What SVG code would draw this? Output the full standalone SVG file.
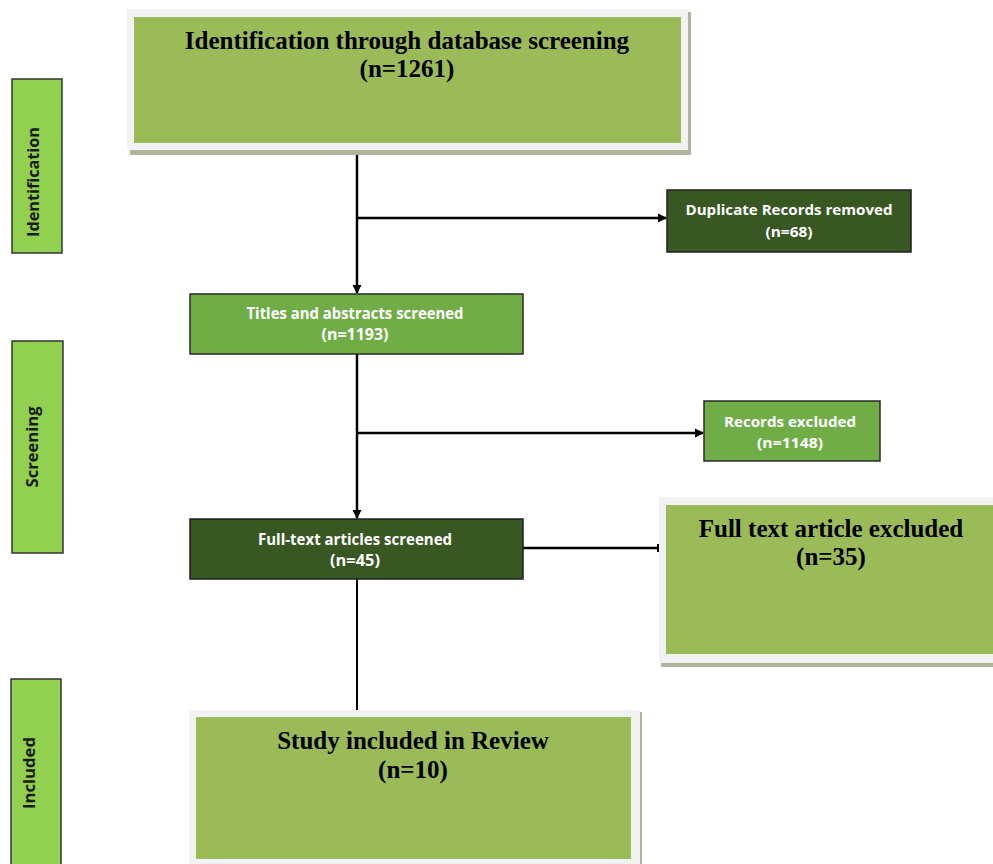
<svg xmlns="http://www.w3.org/2000/svg" width="993" height="864" viewBox="0 0 993 864">
<defs>
<style>
.frame{fill:#f2f2f2}
.shadow{fill:#adb59f}
.big{fill:#9bbb59}
.mid{fill:#70ad47;stroke:#2b2b2b;stroke-width:1.5}
.dark{fill:#385723;stroke:#1f1f1f;stroke-width:1.5}
.side{fill:#92d050;stroke:#333333;stroke-width:1.5}
.serif{font-family:"Liberation Serif","Times New Roman",serif;font-weight:bold;font-size:25px;fill:#000000;text-anchor:middle}
.small{font-family:"Open Sans","Liberation Sans",sans-serif;font-weight:bold;font-size:15px;fill:#ffffff;text-anchor:middle}
.small16{font-size:16px}
.lbl{font-family:"Open Sans","Liberation Sans",sans-serif;font-weight:bold;font-size:16px;fill:#1a1a1a;text-anchor:middle}
.conn{stroke:#000000;stroke-width:2.5;fill:none}
</style>
<marker id="arr" markerWidth="10" markerHeight="10" refX="8" refY="5" orient="auto" markerUnits="userSpaceOnUse">
<path d="M0,0.5 L9,5 L0,9.5 Z" fill="#000000"/>
</marker>
</defs>
<rect width="993" height="864" fill="#ffffff"/>

<g id="connectors">
<line class="conn" x1="357" y1="150" x2="357" y2="293" marker-end="url(#arr)"/>
<line class="conn" x1="357" y1="218" x2="666" y2="218" marker-end="url(#arr)"/>
<line class="conn" x1="357" y1="354" x2="357" y2="518" marker-end="url(#arr)"/>
<line class="conn" x1="357" y1="433" x2="703" y2="433" marker-end="url(#arr)"/>
<line class="conn" x1="523" y1="548" x2="658" y2="548"/>
<line stroke="#000000" stroke-width="2" x1="658" y1="544" x2="658" y2="552"/>
<line stroke="#000000" stroke-width="2" x1="357" y1="579" x2="357" y2="711"/>
</g>

<g id="side-identification">
<rect class="side" x="12" y="79" width="50" height="174"/>
<text class="lbl" transform="translate(39,182) rotate(-90)" textLength="110" lengthAdjust="spacingAndGlyphs">Identification</text>
</g>
<g id="side-screening">
<rect class="side" x="12" y="341" width="51" height="212"/>
<text class="lbl" transform="translate(38,447) rotate(-90)" textLength="81" lengthAdjust="spacingAndGlyphs">Screening</text>
</g>
<g id="side-included">
<rect class="side" x="11" y="679" width="50" height="190"/>
<text class="lbl" transform="translate(35,773) rotate(-90)" textLength="72" lengthAdjust="spacingAndGlyphs">Included</text>
</g>

<g id="node-identification">
<rect class="shadow" x="130" y="12" width="561" height="143"/>
<rect class="frame" x="127" y="9" width="561" height="141"/>
<rect class="big" x="134" y="17" width="547" height="126"/>
<text class="serif" x="407" y="49">Identification through database screening</text>
<text class="serif" x="407" y="77">(n=1261)</text>
</g>

<g id="node-duplicates">
<rect class="dark" x="667" y="190" width="244" height="62"/>
<text class="small" x="789" y="215" textLength="207" lengthAdjust="spacingAndGlyphs">Duplicate Records removed</text>
<text class="small" x="789" y="237" textLength="47" lengthAdjust="spacingAndGlyphs">(n=68)</text>
</g>

<g id="node-titles">
<rect class="mid" x="190" y="294" width="333" height="60"/>
<text class="small small16" x="355" y="319" textLength="217" lengthAdjust="spacingAndGlyphs">Titles and abstracts screened</text>
<text class="small small16" x="355" y="340" textLength="67" lengthAdjust="spacingAndGlyphs">(n=1193)</text>
</g>

<g id="node-records-excluded">
<rect class="mid" x="704" y="401" width="176" height="60"/>
<text class="small" x="790" y="427" textLength="132" lengthAdjust="spacingAndGlyphs">Records excluded</text>
<text class="small" x="790" y="448" textLength="66" lengthAdjust="spacingAndGlyphs">(n=1148)</text>
</g>

<g id="node-fulltext-screened">
<rect class="dark" x="190" y="519" width="333" height="60"/>
<text class="small small16" x="355" y="545" textLength="194" lengthAdjust="spacingAndGlyphs">Full-text articles screened</text>
<text class="small small16" x="355" y="566" textLength="50" lengthAdjust="spacingAndGlyphs">(n=45)</text>
</g>

<g id="node-fulltext-excluded">
<rect class="shadow" x="661" y="500" width="340" height="167"/>
<rect class="frame" x="659" y="497" width="340" height="166"/>
<rect class="big" x="666" y="505" width="334" height="149"/>
<text class="serif" x="831" y="537">Full text article excluded</text>
<text class="serif" x="831" y="565">(n=35)</text>
</g>

<g id="node-included">
<rect class="shadow" x="192" y="712" width="450" height="160"/>
<rect class="frame" x="189" y="710" width="451" height="160"/>
<rect class="big" x="196" y="717" width="435" height="142"/>
<text class="serif" x="413" y="749">Study included in Review</text>
<text class="serif" x="413" y="778">(n=10)</text>
</g>
</svg>
